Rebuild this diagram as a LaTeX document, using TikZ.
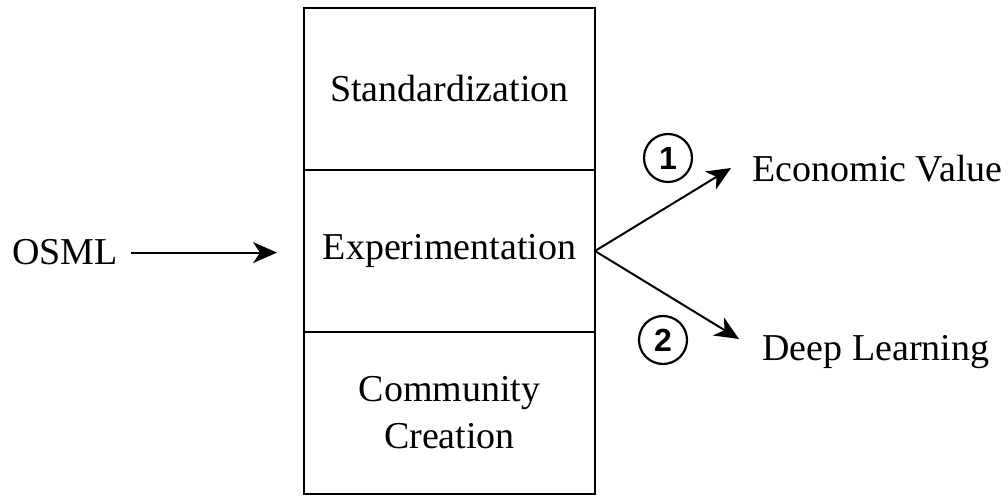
\documentclass[tikz,border=0pt]{standalone}
\usepackage{fontspec}
\setmainfont{Liberation Serif}
\newfontfamily\numfont{Liberation Sans}
\usetikzlibrary{positioning,arrows.meta}
\tikzset{
  cell/.style={draw=black,line width=1.1pt,minimum width=145.5pt,minimum height=81pt,
    outer sep=0pt,align=center,font=\fontsize{19}{23.5}\selectfont},
  lbl/.style={inner sep=0pt,font=\fontsize{19}{23}\selectfont},
  arr/.style={draw=black,line width=1pt,-{Stealth[length=12pt,width=10.5pt,inset=3.5pt]}},
  num/.style={circle,draw=black,line width=1.1pt,minimum size=24pt,inner sep=0pt,
    font=\numfont\bfseries\fontsize{16}{16}\selectfont},
}

\begin{document}
\begin{tikzpicture}[x=0.5pt,y=-0.5pt]
\useasboundingbox (0,0) rectangle (1008,496);
% stacked boxes
\node[cell] (std) at (449.5,89) {Standardization};
\node[cell,anchor=north] (exp) at (std.south) {Experimentation};
\node[cell,anchor=north] (com) at (exp.south) {Community\\Creation};
% labels
\node[lbl,anchor=base west] (osml) at (12,265) {OSML};
\node[lbl,anchor=base west] (econ) at (752,182) {Economic Value};
\node[lbl,anchor=base west] (deep) at (762,361) {Deep Learning};
\coordinate (t1) at (731,168);
\coordinate (t2) at (739,339);
% arrows
\draw[arr,shorten <=6.5pt,shorten >=13.5pt] (osml.east) -- (osml.east -| exp.west);
\draw[arr] (exp.east) -- (t1);
\draw[arr] (exp.east) -- (t2);
\node[num] (n1) at (668,158) {1};
\node[num] (n2) at (663,340) {2};
\end{tikzpicture}
\end{document}
